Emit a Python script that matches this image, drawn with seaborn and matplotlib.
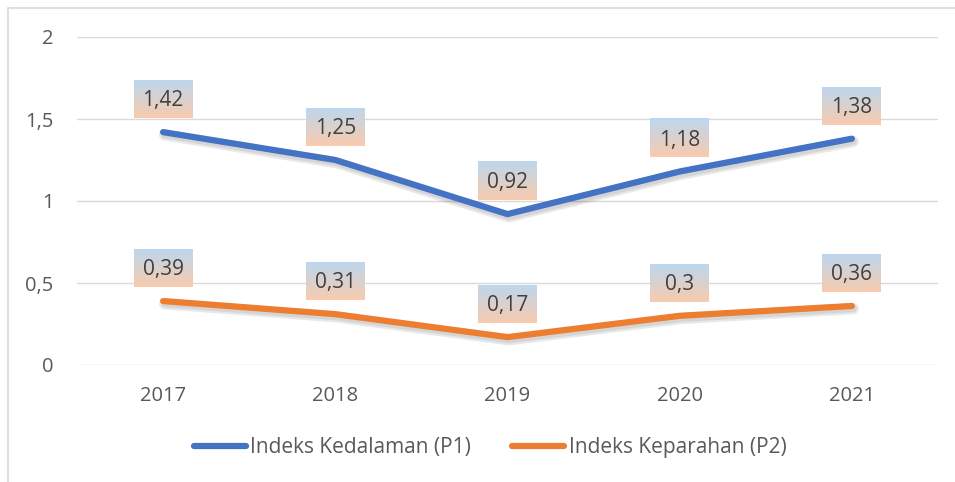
"""Poverty depth / severity index chart."""
import numpy as np
import matplotlib
matplotlib.use("Agg")
import matplotlib.pyplot as plt
import matplotlib.patheffects as pe
from matplotlib.lines import Line2D
import seaborn as sns
import pandas as pd

years = ["2017", "2018", "2019", "2020", "2021"]
p1_values = [1.42, 1.25, 0.92, 1.18, 1.38]
p2_values = [0.39, 0.31, 0.17, 0.30, 0.36]
series_names = ["Indeks Kedalaman (P1)", "Indeks Keparahan (P2)"]
series_colors = ["#4472C4", "#ED7D31"]
y_ticks = [0, 0.5, 1, 1.5, 2]
y_tick_labels = ["0", "0,5", "1", "1,5", "2"]

sns.set_theme(style="white")
plt.rcParams["font.family"] = ["Open Sans", "DejaVu Sans"]

df = pd.DataFrame({
    "year": years * 2,
    "x": list(range(len(years))) * 2,
    "value": p1_values + p2_values,
    "series": [series_names[0]] * len(years) + [series_names[1]] * len(years),
})

W, H = 955, 482
fig = plt.figure(figsize=(W / 100, H / 100), dpi=100)
ax = fig.add_axes([77 / W, 1 - 365 / H, (938 - 77) / W, (365 - 37) / H])

shadow = [pe.SimpleLineShadow(offset=(1.0, -2.0), shadow_color="black", alpha=0.09, linewidth=8),
          pe.SimpleLineShadow(offset=(1.0, -2.0), shadow_color="black", alpha=0.08, linewidth=5),
          pe.Normal()]
sns.lineplot(data=df, x="x", y="value", hue="series", palette=series_colors,
             linewidth=4.5, ax=ax, legend=False, solid_capstyle="round")
for ln in ax.get_lines():
    ln.set_path_effects(shadow)

ax.set_yticks(y_ticks)
ax.set_yticklabels(y_tick_labels)
ax.set_xticks(range(len(years)))
ax.set_xticklabels(years)
ax.set_xlabel("")
ax.set_ylabel("")
ax.grid(axis="y", color="#D9D9D9", linewidth=1)
ax.set_axisbelow(True)
for s in ax.spines.values():
    s.set_visible(False)
ax.tick_params(axis="both", length=0, labelsize=14.5, colors="#595959")
ax.tick_params(axis="y", pad=17)
ax.tick_params(axis="x", pad=15)

# gradient label boxes (light blue on top, light orange at bottom)
grad = np.linspace(0, 1, 64).reshape(-1, 1)
top = np.array(matplotlib.colors.to_rgb("#BDD7EE"))
bot = np.array(matplotlib.colors.to_rgb("#F8CBAD"))
img = top[None, None, :] * (1 - grad[:, :, None]) + bot[None, None, :] * grad[:, :, None]
px_x = len(years) / 861
px_y = 2 / 328
bw, bh, off = 59 * px_x, 38 * px_y, 33 * px_y
for vals in (p1_values, p2_values):
    for i, v in enumerate(vals):
        cy = v + off
        ax.imshow(img, extent=[i - bw / 2, i + bw / 2, cy - bh / 2, cy + bh / 2],
                  aspect="auto", zorder=3, interpolation="bilinear")
        ax.text(i, cy - 0.01, f"{v:g}".replace(".", ","), ha="center", va="center",
                fontsize=15, color="#404040", zorder=4)
ax.set_xlim(-0.5, len(years) - 0.5)
ax.set_ylim(0, 2)

handles = [Line2D([0], [0], color=c, linewidth=4.5, solid_capstyle="round") for c in series_colors]
fig.legend(handles, series_names, loc="center", bbox_to_anchor=(490 / W, 1 - 448 / H),
           ncol=2, frameon=False, fontsize=15, handlelength=2.5, handletextpad=0.2,
           columnspacing=2.0, labelcolor="#595959")

# outer chart border (left and top edges visible)
fig.add_artist(Line2D([7.5 / W, 7.5 / W], [0, 1 - 8 / H], color="#D9D9D9", linewidth=1.2,
                      transform=fig.transFigure))
fig.add_artist(Line2D([7.5 / W, 1], [1 - 8 / H, 1 - 8 / H], color="#D9D9D9", linewidth=1.2,
                      transform=fig.transFigure))

fig.savefig("out.png", dpi=100)
